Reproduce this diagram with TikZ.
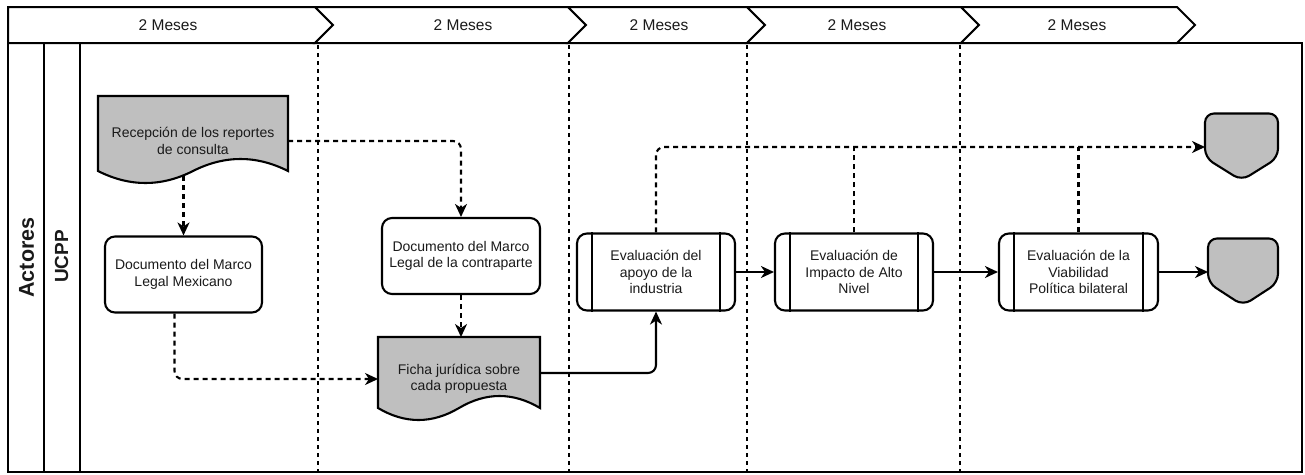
\documentclass[tikz,border=0pt]{standalone}
\usepackage{fontspec}
\setmainfont{Liberation Sans}
\usetikzlibrary{arrows.meta,calc}
\definecolor{docgray}{HTML}{BFBFBF}
\definecolor{txt}{HTML}{1A1A1A}
\begin{document}
\begin{tikzpicture}[x=1pt,y=-1pt,
  every node/.style={text=txt, font=\fontsize{14}{16.5}\selectfont},
  rbox/.style={draw=black, line width=2.1pt, rounded corners=10pt, fill=white,
    minimum width=157pt, minimum height=76pt, align=center, inner sep=0pt},
  proc/.style={rbox, minimum width=158pt, minimum height=77pt},
  tag/.style={draw=none, align=center, inner sep=0pt, outer sep=0pt},
  docshape/.style={draw=black, fill=docgray, line width=2.1pt},
  endshape/.style={draw=black, fill=docgray, line width=2.1pt, rounded corners=9pt},
  conn/.style={line width=2.1pt, rounded corners=8pt},
  dconn/.style={conn, dash pattern=on 5pt off 4pt},
  arr/.style={-{Stealth[length=13pt,width=12pt,inset=4pt]}},
  lane/.style={line width=1.8pt, dash pattern=on 4pt off 4pt},
  chev/.style={draw=black, line width=2pt, fill=white, line join=miter},
  hdr/.style={font=\fontsize{15.5}{18}\selectfont, inner sep=0pt}
]
\useasboundingbox (0,0) rectangle (1305,474);

% header chevrons
\draw[chev] (8,7) -- (315,7) -- (333,25) -- (315,43) -- (8,43) -- cycle;
\foreach \a/\b in {315/568, 568/747, 747/961, 961/1177}
  \draw[chev] (\a,7) -- (\b,7) -- (\b+18,25) -- (\b,43) -- (\a,43) -- (\a+18,25) -- cycle;
\node[hdr] (h1) at (168,25) {2 Meses};
\node[hdr] (h2) at (463,25) {2 Meses};
\node[hdr] (h3) at (659,25) {2 Meses};
\node[hdr] (h4) at (857,25) {2 Meses};
\node[hdr] (h5) at (1077,25) {2 Meses};

% pool
\draw[line width=2.3pt] (8,43) rectangle (1302,472);
\draw[line width=2pt] (44,43) -- (44,472);
\draw[line width=2pt] (80,43) -- (80,472);
\node[rotate=90, font=\bfseries\fontsize{21.5}{24}\selectfont, inner sep=0pt] (actores) at (26.5,257.5) {Actores};
\node[rotate=90, font=\bfseries\fontsize{19}{22}\selectfont, inner sep=0pt] (ucpp) at (61.5,256.5) {UCPP};

% lane separators
\foreach \x in {318,569,747,960}
  \draw[lane] (\x,45) -- (\x,474);

% document shapes
\filldraw[docshape] (98,96) -- (288,96) -- (288,171) .. controls (256.3,155) and (224.7,155) .. (193,171)
  .. controls (161.3,187) and (129.7,187) .. (98,171) -- cycle;
\filldraw[docshape] (378,337) -- (540,337) -- (540,408) .. controls (513,392) and (486,392) .. (459,408)
  .. controls (432,424) and (405,424) .. (378,408) -- cycle;

% nodes
\node[tag, minimum width=190pt, minimum height=90pt] (r1) at (193,141) {Recepción de los reportes\\de consulta};
\node[tag, minimum width=162pt, minimum height=84pt] (f1) at (459,379) {Ficha jurídica sobre\\cada propuesta};
\node[rbox] (m1) at (183.5,274.5) {Documento del Marco\\Legal Mexicano};
\node[rbox, minimum width=158pt] (c1) at (461,256) {Documento del Marco\\Legal de la contraparte};
\node[proc] (a1) at (656,272) {Evaluación del\\apoyo de la\\industria};
\node[proc] (i1) at (854,272) {Evaluación de\\Impacto de Alto\\Nivel};
\node[proc, minimum width=159pt] (v1) at (1078.5,272) {Evaluación de la\\Viabilidad\\Política bilateral};
\foreach \n in {a1,i1,v1}{
  \draw[line width=2.1pt] ([xshift=16pt]\n.north west) -- ([xshift=16pt]\n.south west);
  \draw[line width=2.1pt] ([xshift=-16pt]\n.north east) -- ([xshift=-16pt]\n.south east);
}

% end shapes
\node[tag, minimum width=73pt, minimum height=67pt] (e1) at (1241.5,147) {};
\node[tag, minimum width=70pt, minimum height=67pt] (e2) at (1243,272) {};
\foreach \n in {e1,e2}
  \draw[endshape] (\n.north west) -- (\n.north east) -- ($(\n.north east)!0.66!(\n.south east)$)
    -- (\n.south) -- ($(\n.north west)!0.66!(\n.south west)$) -- cycle;

% connectors
\draw[dconn, arr, shorten <=-10pt] (r1.south -| m1.north) -- (m1.north);
\draw[dconn, arr] (r1.east) -| (c1.north);
\draw[dconn, arr] ([xshift=-9pt]m1.south) |- (f1.west);
\draw[dconn, arr] (c1.south) -- (c1.south |- f1.north);
\draw[conn, arr] ([yshift=6pt]f1.east) -| (a1.south);
\draw[conn, arr] (a1.east) -- (i1.west);
\draw[conn, arr] (i1.east) -- (v1.west);
\draw[conn, arr] (v1.east) -- (e2.west);
\draw[dconn, arr] (a1.north) |- (e1.west);
\draw[dconn] (i1.north) -- (i1.north |- e1.west);
\draw[dconn] (v1.north) -- (v1.north |- e1.west);
\end{tikzpicture}
\end{document}
